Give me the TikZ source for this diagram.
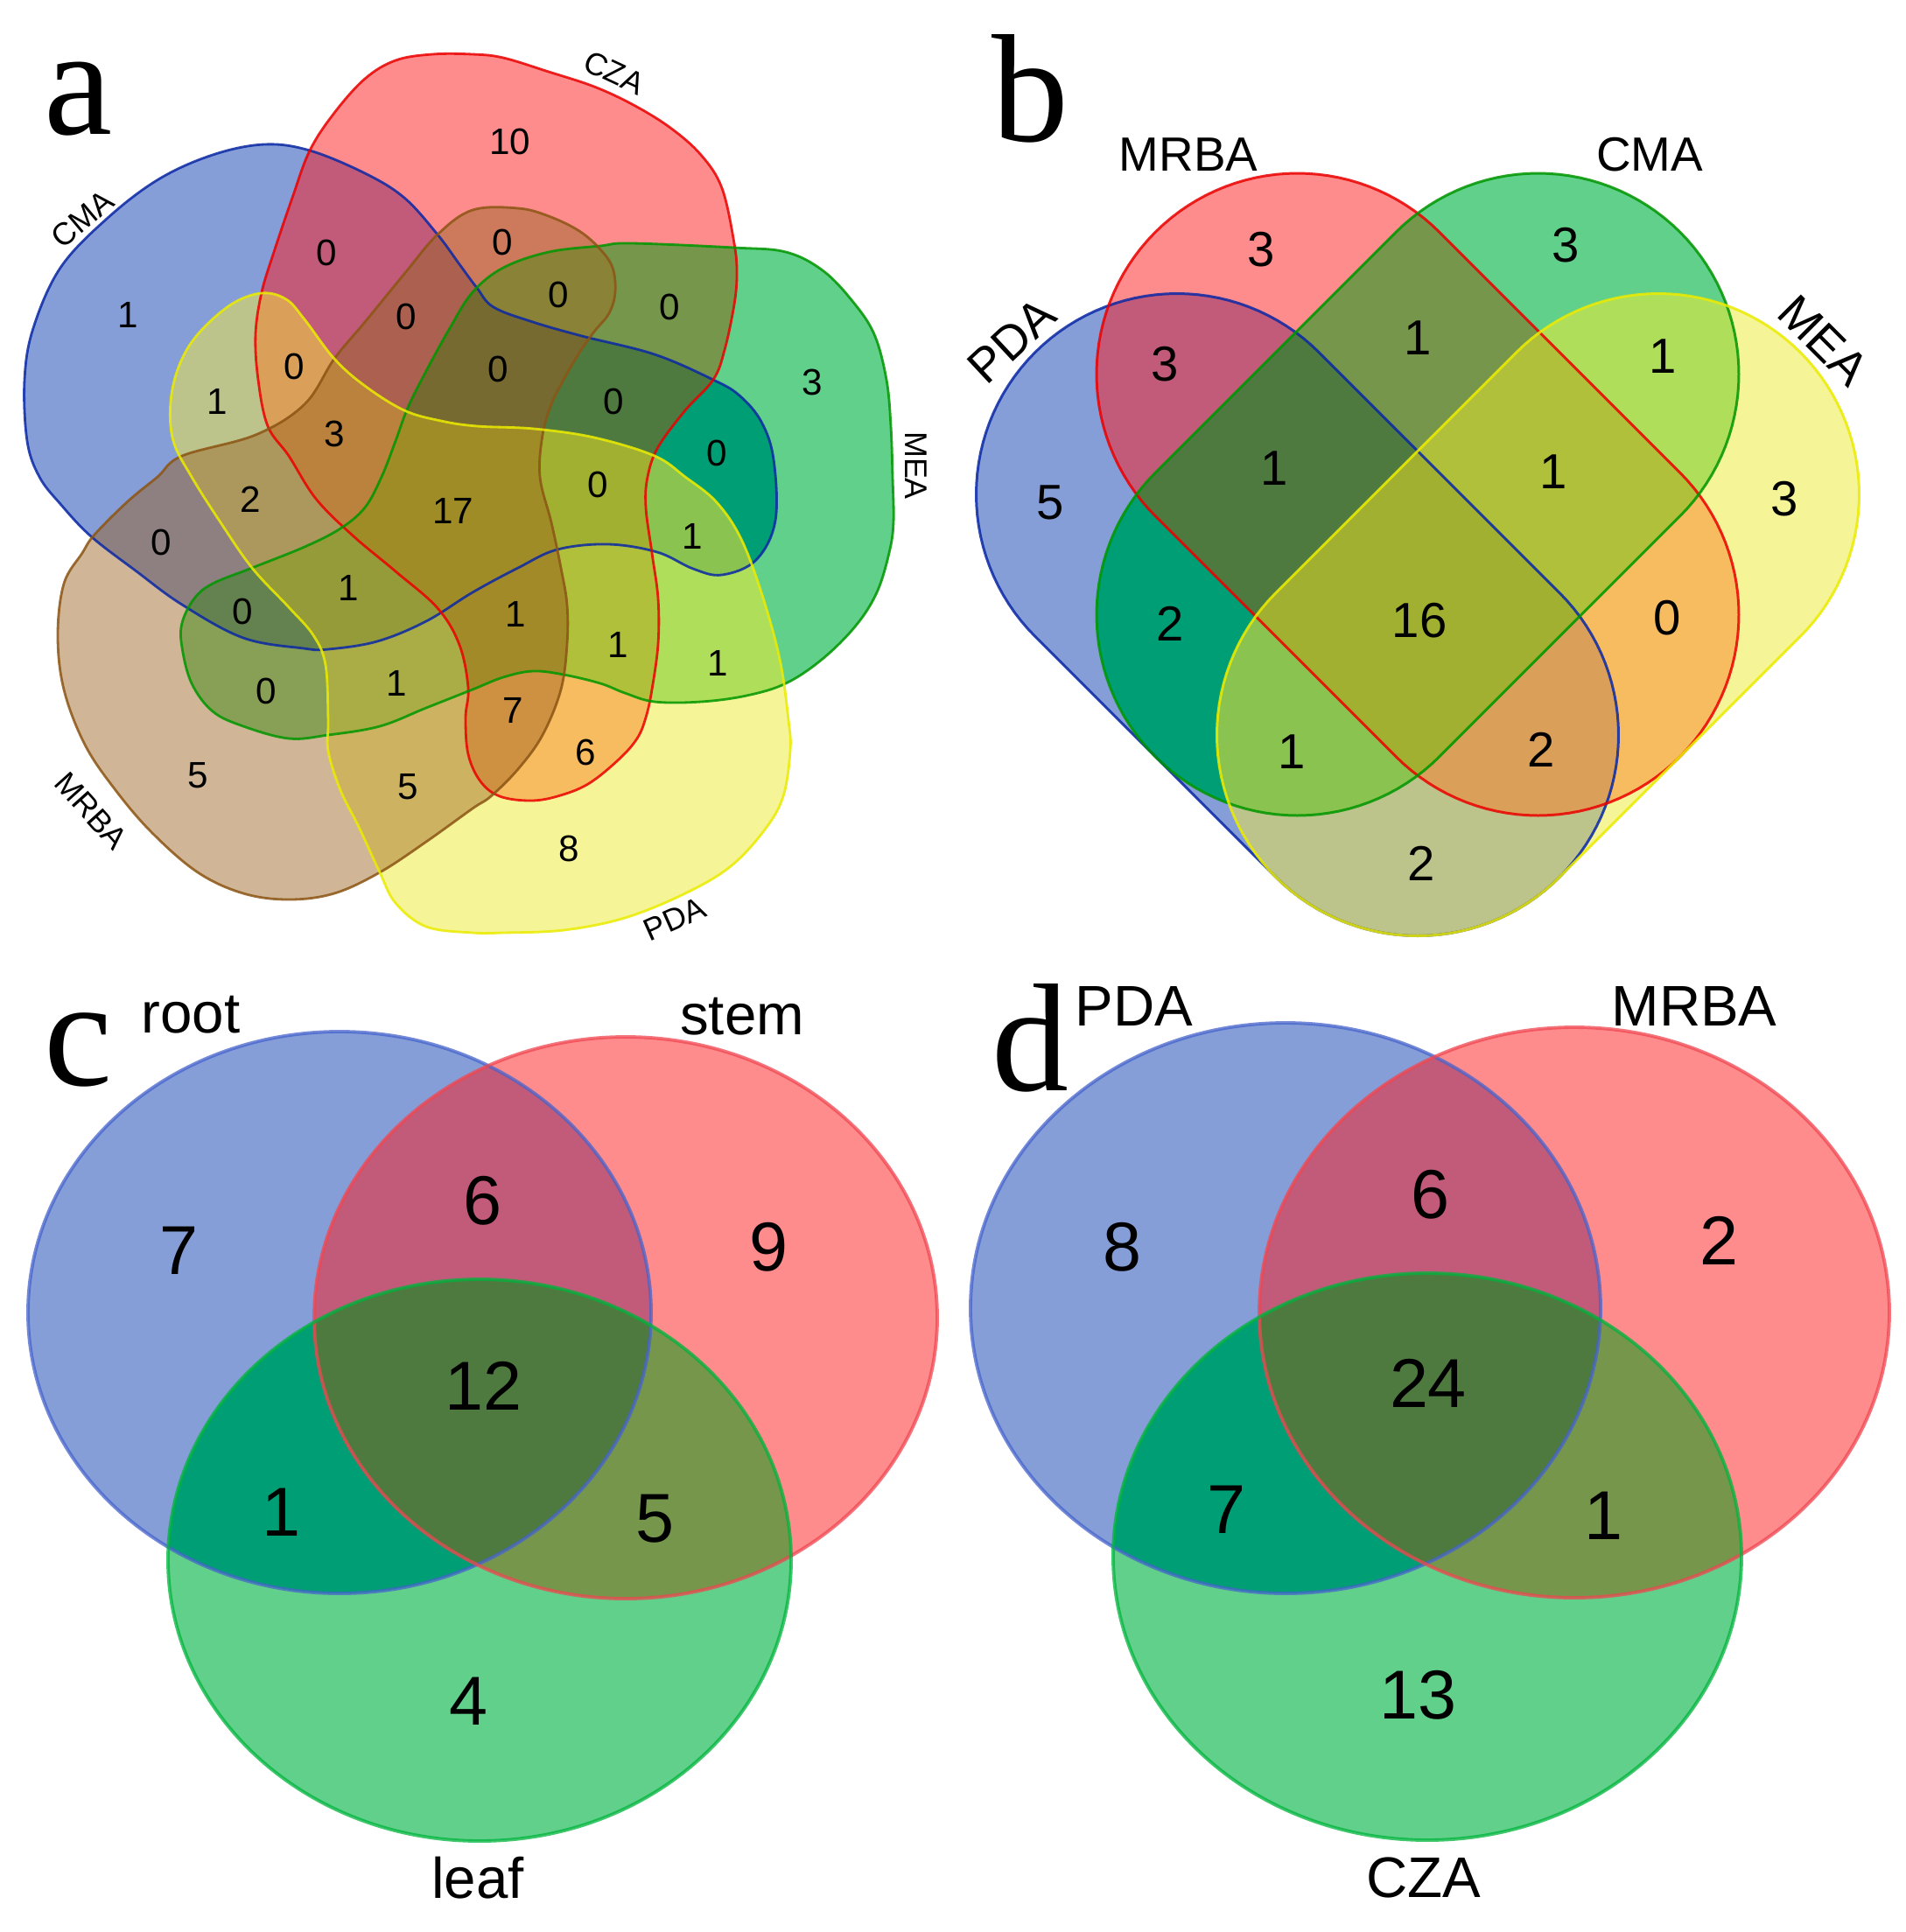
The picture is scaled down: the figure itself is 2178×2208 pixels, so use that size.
\documentclass[tikz,border=0pt]{standalone}
\usepackage{fontspec}
\setmainfont{Liberation Sans}
\newfontfamily\pletter{Liberation Serif}
% single colours
\definecolor{aA}{RGB}{134,158,216}
\definecolor{aZ}{RGB}{255,140,140}
\definecolor{aE}{RGB}{96,208,138}
\definecolor{aR}{RGB}{208,182,150}
\definecolor{aP}{RGB}{245,245,152}
% pairs
\definecolor{aAZ}{RGB}{194,90,121}
\definecolor{aAE}{RGB}{0,158,116}
\definecolor{aAR}{RGB}{142,128,128}
\definecolor{aAP}{RGB}{188,196,140}
\definecolor{aZE}{RGB}{118,150,76}
\definecolor{aZR}{RGB}{205,122,92}
\definecolor{aZP}{RGB}{247,188,95}
\definecolor{aER}{RGB}{135,160,85}
\definecolor{aEP}{RGB}{175,222,90}
\definecolor{aRP}{RGB}{205,178,98}
% triples
\definecolor{aAZR}{RGB}{172,96,80}
\definecolor{aAZP}{RGB}{218,160,90}
\definecolor{aAZE}{RGB}{78,122,64}
\definecolor{aAPR}{RGB}{172,152,92}
\definecolor{aAEP}{RGB}{139,195,80}
\definecolor{aARE}{RGB}{100,130,80}
\definecolor{aZRE}{RGB}{137,130,55}
\definecolor{aZEP}{RGB}{176,192,58}
\definecolor{aZRP}{RGB}{205,145,65}
\definecolor{aREP}{RGB}{170,172,70}
% quads
\definecolor{aAZRE}{RGB}{118,106,48}
\definecolor{aAZPR}{RGB}{186,130,60}
\definecolor{aAZEP}{RGB}{161,176,48}
\definecolor{aAPRE}{RGB}{150,155,58}
\definecolor{aZEPR}{RGB}{162,138,40}
\definecolor{aALL}{RGB}{160,140,38}
% strokes
\definecolor{sBlue}{RGB}{10,40,165}
\definecolor{sRed}{RGB}{235,0,0}
\definecolor{sGreen}{RGB}{0,150,0}
\definecolor{sBrown}{RGB}{140,85,20}
\definecolor{sYellow}{RGB}{235,235,0}
\definecolor{cBlue}{RGB}{70,100,205}
\definecolor{cRed}{RGB}{240,70,80}
\definecolor{cGreen}{RGB}{0,180,60}

\begin{document}
\begin{tikzpicture}[x=0.01cm,y=-0.01cm,
  numa/.style={font=\fontsize{12}{14}\selectfont, inner sep=0},
  laba/.style={font=\fontsize{10.2}{12}\selectfont, inner sep=0},
  numb/.style={font=\fontsize{16}{19}\selectfont, inner sep=0},
  labb/.style={font=\fontsize{15.6}{18}\selectfont, inner sep=0},
  numc/.style={font=\fontsize{22.5}{26}\selectfont, inner sep=0},
  labc/.style={font=\fontsize{18.6}{22}\selectfont, inner sep=0},
  plet/.style={font=\pletter\fontsize{50}{56}\selectfont, inner sep=0, anchor=base west},
  edgea/.style={line width=0.8pt, draw opacity=0.85},
  edgeb/.style={line width=0.85pt, draw opacity=0.85},
  edgec/.style={line width=1.1pt, draw opacity=0.75}]
\useasboundingbox (0,0) rectangle (2178,2208);
\fill[white] (0,0) rectangle (2178,2208);

% ================= panel a =================
\def\pA{plot[smooth cycle, tension=0.6] coordinates {(302,165) (354,172) (417,198) (462,226) (500,268) (525,302) (545,329) (564,351) (609,368) (665,384) (748,405) (815,434) (845,452) (870,482) (884,525) (886,595) (864,640) (825,657) (792,650) (751,631) (695,622) (637,628) (592,649) (540,677) (487,710) (431,733) (375,742) (347,741) (278,729) (208,691) (156,653) (104,613) (69,576) (45,545) (31,504) (28,434) (38,375) (69,306) (122,250) (181,205) (243,177)}}
\def\pZ{plot[smooth cycle, tension=0.6] coordinates {(354,172) (382,129) (417,90) (452,69) (494,62) (540,62) (575,66) (627,82) (679,99) (724,120) (766,146) (801,177) (825,215) (839,278) (842,313) (839,348) (828,400) (815,434) (783,469) (752,511) (740,545) (738,580) (745,632) (752,684) (752,736) (745,788) (738,820) (728,844) (707,868) (672,896) (637,910) (606,915) (571,910) (549,893) (535,862) (532,820) (535,786) (525,737) (500,695) (452,653) (403,612) (361,570) (330,521) (306,487) (295,434) (292,382) (299,334) (313,288) (334,226)}}
\def\pE{plot[smooth cycle, tension=0.6] coordinates {(540,334) (575,306) (627,288) (686,281) (721,278) (839,283) (898,288) (940,309) (974,344) (999,382) (1013,434) (1018,487) (1020,545) (1021,597) (1016,632) (1002,677) (978,715) (940,753) (898,781) (853,795) (801,802) (748,802) (714,792) (686,781) (644,771) (609,767) (575,774) (540,788) (487,809) (434,830) (375,840) (330,844) (278,830) (243,813) (219,781) (208,740) (208,712) (222,684) (243,667) (288,649) (348,625) (389,604) (417,580) (436,545) (452,504) (466,466) (487,424) (514,375)}}
\def\pR{plot[smooth cycle, tension=0.6] coordinates {(500,268) (540,240) (592,238) (627,247) (662,264) (686,285) (700,306) (703,334) (696,358) (679,379) (662,403) (644,434) (630,462) (620,497) (617,545) (630,597) (641,649) (648,691) (648,736) (641,788) (620,840) (592,879) (561,910) (540,924) (487,962) (434,997) (382,1021) (330,1028) (278,1021) (226,997) (174,952) (132,903) (97,851) (73,788) (66,726) (73,667) (94,632) (108,611) (146,573) (180,545) (208,521) (292,497) (348,462) (382,410) (417,368) (462,313)}}
\def\pP{plot[smooth cycle, tension=0.6] coordinates {(299,335) (327,342) (348,365) (382,410) (417,441) (462,469) (504,481) (545,487) (610,490) (679,500) (748,521) (783,545) (818,573) (846,614) (870,677) (891,753) (901,823) (903,858) (895,910) (874,948) (835,990) (783,1021) (714,1049) (644,1063) (575,1066) (540,1066) (487,1059) (452,1032) (434,997) (410,945) (389,903) (375,858) (375,823) (372,760) (358,726) (330,694) (288,649) (250,594) (219,545) (198,504) (195,459) (205,417) (226,382) (264,348)}}

\fill[aA] \pA; \fill[aZ] \pZ; \fill[aE] \pE; \fill[aR] \pR; \fill[aP] \pP;
% pairs
\begin{scope}\clip\pA; \fill[aAZ]\pZ; \end{scope}
\begin{scope}\clip\pA; \fill[aAE]\pE; \end{scope}
\begin{scope}\clip\pA; \fill[aAR]\pR; \end{scope}
\begin{scope}\clip\pA; \fill[aAP]\pP; \end{scope}
\begin{scope}\clip\pZ; \fill[aZE]\pE; \end{scope}
\begin{scope}\clip\pZ; \fill[aZR]\pR; \end{scope}
\begin{scope}\clip\pZ; \fill[aZP]\pP; \end{scope}
\begin{scope}\clip\pE; \fill[aER]\pR; \end{scope}
\begin{scope}\clip\pE; \fill[aEP]\pP; \end{scope}
\begin{scope}\clip\pR; \fill[aRP]\pP; \end{scope}
% triples
\begin{scope}\clip\pA; \clip\pZ; \fill[aAZR]\pR; \end{scope}
\begin{scope}\clip\pA; \clip\pZ; \fill[aAZP]\pP; \end{scope}
\begin{scope}\clip\pA; \clip\pZ; \fill[aAZE]\pE; \end{scope}
\begin{scope}\clip\pA; \clip\pP; \fill[aAPR]\pR; \end{scope}
\begin{scope}\clip\pA; \clip\pE; \fill[aAEP]\pP; \end{scope}
\begin{scope}\clip\pA; \clip\pR; \fill[aARE]\pE; \end{scope}
\begin{scope}\clip\pZ; \clip\pR; \fill[aZRE]\pE; \end{scope}
\begin{scope}\clip\pZ; \clip\pE; \fill[aZEP]\pP; \end{scope}
\begin{scope}\clip\pZ; \clip\pR; \fill[aZRP]\pP; \end{scope}
\begin{scope}\clip\pR; \clip\pE; \fill[aREP]\pP; \end{scope}
% quads
\begin{scope}\clip\pA; \clip\pZ; \clip\pR; \fill[aAZRE]\pE; \end{scope}
\begin{scope}\clip\pA; \clip\pZ; \clip\pP; \fill[aAZPR]\pR; \end{scope}
\begin{scope}\clip\pA; \clip\pZ; \clip\pE; \fill[aAZEP]\pP; \end{scope}
\begin{scope}\clip\pA; \clip\pP; \clip\pR; \fill[aAPRE]\pE; \end{scope}
\begin{scope}\clip\pZ; \clip\pE; \clip\pP; \fill[aZEPR]\pR; \end{scope}
% all five
\begin{scope}\clip\pA; \clip\pZ; \clip\pE; \clip\pP; \fill[aALL]\pR; \end{scope}
% outlines
\draw[edgea, sBlue] \pA;
\draw[edgea, sRed] \pZ;
\draw[edgea, sGreen] \pE;
\draw[edgea, sBrown] \pR;
\draw[edgea, sYellow] \pP;

\node[plet] (la) at (50,153) {a};
\node[laba, rotate=40] (tCMA) at (94,250) {CMA};
\node[laba, rotate=-25] (tCZA) at (702,83) {CZA};
\node[laba, rotate=-90] (tMEA) at (1047,532) {MEA};
\node[laba, rotate=24] (tPDA) at (771,1050) {PDA};
\node[laba, rotate=-48] (tMRBA) at (104,927) {MRBA};

\node[numa] (a1) at (583,162) {10};
\node[numa] (a2) at (146,360) {1};
\node[numa] (a3) at (373,289) {0};
\node[numa] (a4) at (574,277) {0};
\node[numa] (a5) at (638,337) {0};
\node[numa] (a6) at (765,351) {0};
\node[numa] (a7) at (928,437) {3};
\node[numa] (a8) at (464,362) {0};
\node[numa] (a9) at (248,459) {1};
\node[numa] (a10) at (336,419) {0};
\node[numa] (a11) at (569,422) {0};
\node[numa] (a12) at (701,459) {0};
\node[numa] (a13) at (819,518) {0};
\node[numa] (a14) at (382,496) {3};
\node[numa] (a15) at (286,571) {2};
\node[numa] (a16) at (518,584) {17};
\node[numa] (a17) at (683,554) {0};
\node[numa] (a18) at (791,613) {1};
\node[numa] (a19) at (184,620) {0};
\node[numa] (a20) at (398,672) {1};
\node[numa] (a21) at (277,699) {0};
\node[numa] (a22) at (589,702) {1};
\node[numa] (a23) at (706,737) {1};
\node[numa] (a24) at (820,758) {1};
\node[numa] (a25) at (304,790) {0};
\node[numa] (a26) at (453,781) {1};
\node[numa] (a27) at (586,812) {7};
\node[numa] (a28) at (669,860) {6};
\node[numa] (a29) at (226,886) {5};
\node[numa] (a30) at (466,899) {5};
\node[numa] (a31) at (650,970) {8};

% ================= panel b =================
\def\bR{plot[domain=135:315, samples=61] ({1482.5+229.5*cos(\x)},{427.5+229.5*sin(\x)}) -- plot[domain=-45:135, samples=61] ({1757.5+229.5*cos(\x)},{702.5+229.5*sin(\x)}) -- cycle}
\def\bC{plot[domain=225:405, samples=61] ({1757.5+229.5*cos(\x)},{427.5+229.5*sin(\x)}) -- plot[domain=45:225, samples=61] ({1482.5+229.5*cos(\x)},{702.5+229.5*sin(\x)}) -- cycle}
\def\bP{plot[domain=135:315, samples=61] ({1345+229.5*cos(\x)},{565+229.5*sin(\x)}) -- plot[domain=-45:135, samples=61] ({1620+229.5*cos(\x)},{840+229.5*sin(\x)}) -- cycle}
\def\bM{plot[domain=225:405, samples=61] ({1895+229.5*cos(\x)},{565+229.5*sin(\x)}) -- plot[domain=45:225, samples=61] ({1620+229.5*cos(\x)},{840+229.5*sin(\x)}) -- cycle}
\fill[aA] \bP; \fill[aZ] \bR; \fill[aE] \bC; \fill[aP] \bM;
\begin{scope}\clip\bP; \fill[aAZ]\bR; \end{scope}
\begin{scope}\clip\bP; \fill[aAE]\bC; \end{scope}
\begin{scope}\clip\bP; \fill[aAP]\bM; \end{scope}
\begin{scope}\clip\bR; \fill[aZE]\bC; \end{scope}
\begin{scope}\clip\bR; \fill[aZP]\bM; \end{scope}
\begin{scope}\clip\bC; \fill[aEP]\bM; \end{scope}
\begin{scope}\clip\bP; \clip\bR; \fill[aAZE]\bC; \end{scope}
\begin{scope}\clip\bP; \clip\bR; \fill[aAZP]\bM; \end{scope}
\begin{scope}\clip\bP; \clip\bC; \fill[aAEP]\bM; \end{scope}
\begin{scope}\clip\bR; \clip\bC; \fill[aZEP]\bM; \end{scope}
\begin{scope}\clip\bP; \clip\bR; \clip\bC; \fill[aAZEP]\bM; \end{scope}
\draw[edgeb, sBlue] \bP;
\draw[edgeb, sRed] \bR;
\draw[edgeb, sGreen] \bC;
\draw[edgeb, sYellow] \bM;

\node[plet] (lb) at (1133,161) {b};
\node[labb] (bMRBA) at (1358,177) {MRBA};
\node[labb] (bCMA) at (1885,177) {CMA};
\node[labb, rotate=43] (bPDA) at (1156,389) {PDA};
\node[labb, rotate=-45] (bMEA) at (2084,389) {MEA};

\node[numb] (b1) at (1441,285) {3};
\node[numb] (b2) at (1789,280) {3};
\node[numb] (b3) at (1331,416) {3};
\node[numb] (b4) at (1620,386) {1};
\node[numb] (b5) at (1900,407) {1};
\node[numb] (b6) at (1200,574) {5};
\node[numb] (b7) at (1456,535) {1};
\node[numb] (b8) at (1775,539) {1};
\node[numb] (b9) at (2039,570) {3};
\node[numb] (b10) at (1337,713) {2};
\node[numb] (b11) at (1622,709) {16};
\node[numb] (b12) at (1905,706) {0};
\node[numb] (b13) at (1476,859) {1};
\node[numb] (b14) at (1761,857) {2};
\node[numb] (b15) at (1624,987) {2};

% ================= panel c =================
\def\cB{(388,1500) ellipse [x radius=356, y radius=321]}
\def\cR{(715,1506) ellipse [x radius=356, y radius=321]}
\def\cG{(548,1783) ellipse [x radius=356, y radius=321]}
\fill[aA] \cB; \fill[aZ] \cR; \fill[aE] \cG;
\begin{scope}\clip\cB; \fill[aAZ]\cR; \end{scope}
\begin{scope}\clip\cB; \fill[aAE]\cG; \end{scope}
\begin{scope}\clip\cR; \fill[aZE]\cG; \end{scope}
\begin{scope}\clip\cB; \clip\cR; \fill[aAZE]\cG; \end{scope}
\draw[edgec, cBlue] \cB;
\draw[edgec, cRed] \cR;
\draw[edgec, cGreen] \cG;

\node[plet] (lc) at (50,1240) {c};
\node[labc] (croot) at (218,1160) {root};
\node[labc] (cstem) at (848,1162) {stem};
\node[labc] (cleaf) at (546,2146) {leaf};
\node[numc] (c1) at (204,1429) {7};
\node[numc] (c2) at (551,1372) {6};
\node[numc] (c3) at (878,1425) {9};
\node[numc] (c4) at (553,1584) {12};
\node[numc] (c5) at (322,1728) {1};
\node[numc] (c6) at (748,1736) {5};
\node[numc] (c7) at (535,1944) {4};

% ================= panel d =================
\def\dB{(1469,1495) ellipse [x radius=360, y radius=326]}
\def\dR{(1799,1500) ellipse [x radius=360, y radius=326]}
\def\dG{(1631,1779) ellipse [x radius=359, y radius=324]}
\fill[aA] \dB; \fill[aZ] \dR; \fill[aE] \dG;
\begin{scope}\clip\dB; \fill[aAZ]\dR; \end{scope}
\begin{scope}\clip\dB; \fill[aAE]\dG; \end{scope}
\begin{scope}\clip\dR; \fill[aZE]\dG; \end{scope}
\begin{scope}\clip\dB; \clip\dR; \fill[aAZE]\dG; \end{scope}
\draw[edgec, cBlue] \dB;
\draw[edgec, cRed] \dR;
\draw[edgec, cGreen] \dG;

\node[plet] (ld) at (1133,1246) {d};
\node[labc] (dPDA) at (1296,1150) {PDA};
\node[labc] (dMRBA) at (1936,1150) {MRBA};
\node[labc] (dCZA) at (1627,2146) {CZA};
\node[numc] (d1) at (1282,1425) {8};
\node[numc] (d2) at (1634,1365) {6};
\node[numc] (d3) at (1964,1418) {2};
\node[numc] (d4) at (1632,1581) {24};
\node[numc] (d5) at (1401,1725) {7};
\node[numc] (d6) at (1832,1732) {1};
\node[numc] (d7) at (1620,1937) {13};
\end{tikzpicture}
\end{document}
